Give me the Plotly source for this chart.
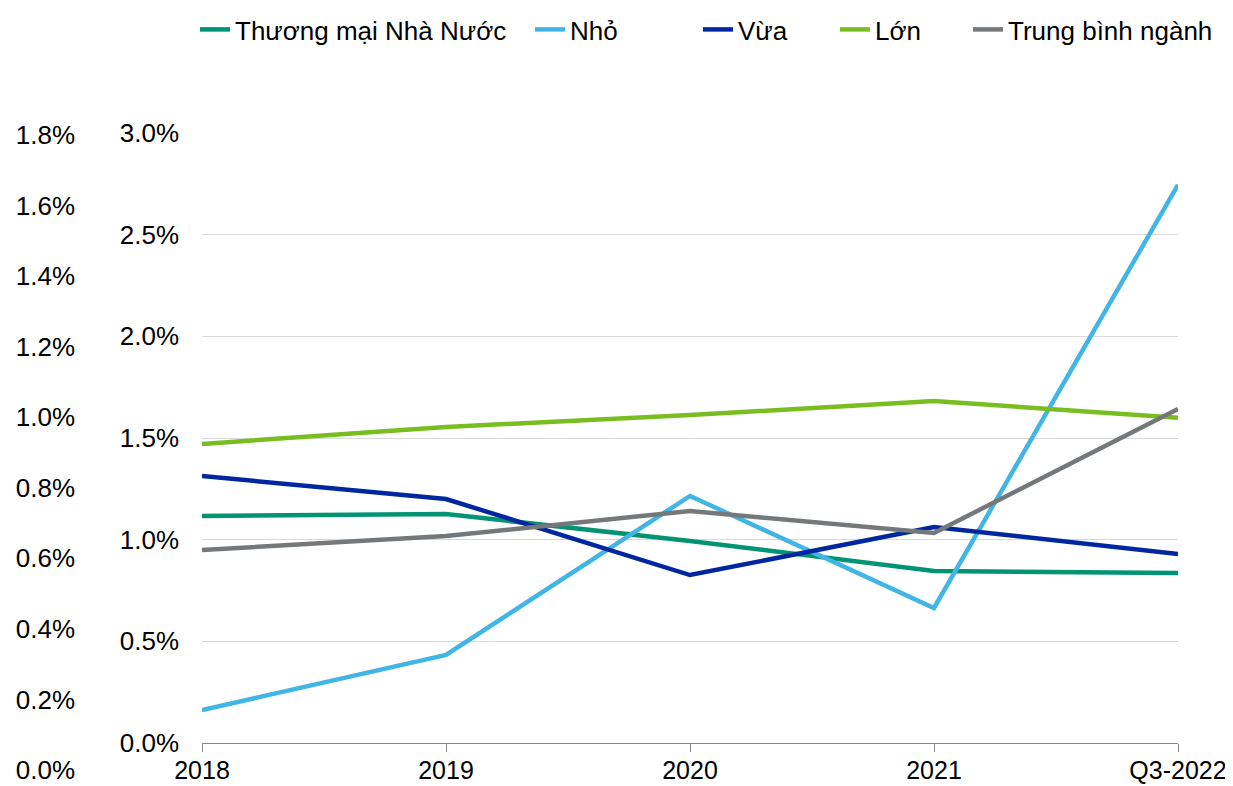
import plotly.graph_objects as go

categories = ["2018", "2019", "2020", "2021", "Q3-2022"]
thuong_mai_nha_nuoc = [1.117, 1.126, 0.994, 0.846, 0.836]
nho = [0.162, 0.433, 1.215, 0.664, 2.745]
vua = [1.313, 1.200, 0.826, 1.062, 0.930]
lon = [1.471, 1.554, 1.613, 1.682, 1.599]
trung_binh_nganh = [0.949, 1.018, 1.141, 1.033, 1.643]

series_names = ["Thương mại Nhà Nước", "Nhỏ", "Vừa", "Lớn", "Trung bình ngành"]
series_values = [thuong_mai_nha_nuoc, nho, vua, lon, trung_binh_nganh]
colors = ["#009473", "#41B6E6", "#0027A0", "#78BE20", "#75787B"]

left_ticks = [0.0, 0.2, 0.4, 0.6, 0.8, 1.0, 1.2, 1.4, 1.6, 1.8]
right_ticks = [0.0, 0.5, 1.0, 1.5, 2.0, 2.5, 3.0]

W, H = 1233, 786
OFF = 8  # page body offset

ml = 202 - OFF
mr = W - (1178 - OFF)
mt = 133 - OFF
mb = 16
pw = W - ml - mr
ph = H - mt - mb

def py(screen_y):
    return (H - mb - (screen_y - OFF)) / ph

def px(screen_x):
    return (screen_x - OFF - ml) / pw

fig = go.Figure()
fig.add_trace(go.Scatter(x=[categories[0]], y=[0], yaxis="y2", xaxis="x",
                         mode="markers", marker=dict(opacity=0), showlegend=False,
                         hoverinfo="skip"))

legend_text_starts = [237, 572, 740, 877, 1010]
font = dict(family="Liberation Sans, Arial, sans-serif", size=26, color="#000000")
xfont = dict(family="Liberation Sans, Arial, sans-serif", size=25, color="#000000")

legend_layout = {}
for i, (name, vals, col) in enumerate(zip(series_names, series_values, colors)):
    lg = "legend" if i == 0 else f"legend{i + 1}"
    fig.add_trace(go.Scatter(
        x=categories, y=[v / 100 for v in vals], name=name, mode="lines",
        line=dict(color=col, width=4.5), xaxis="x", yaxis="y", legend=lg))
    legend_layout[lg] = dict(
        orientation="h", x=px(legend_text_starts[i] - 42), xanchor="left",
        y=py(29.5), yanchor="middle", font=font, bgcolor="rgba(0,0,0,0)",
        borderwidth=0)

fig.update_layout(
    width=W, height=H,
    margin=dict(l=ml, r=mr, t=mt, b=mb, autoexpand=False),
    paper_bgcolor="white", plot_bgcolor="rgba(0,0,0,0)",
    font=font,
    showlegend=True,
    xaxis=dict(
        type="category", categoryorder="array", categoryarray=categories,
        range=[0, len(categories) - 1], domain=[0, 1], anchor="y",
        showgrid=False, showline=True, linecolor="#898989", linewidth=1.3,
        ticks="outside", ticklen=8, tickcolor="#898989", tickwidth=1.3,
        ticklabelstandoff=-3,
        tickfont=xfont, zeroline=False, automargin=False),
    yaxis=dict(
        domain=[py(743), min(1.0, py(133))], range=[0, 0.03],
        tickvals=[v / 100 for v in right_ticks], tickformat=".1%",
        showgrid=True, gridcolor="#D9D9D9", gridwidth=1,
        showline=False, zeroline=False, ticks="", ticklabelstandoff=22,
        tickfont=font, automargin=False),
    yaxis2=dict(
        domain=[max(0.0, py(770)), min(1.0, py(135))], range=[0, 0.018],
        anchor="free", position=0, side="left",
        tickvals=[v / 100 for v in left_ticks], tickformat=".1%",
        showgrid=False, showline=False, zeroline=False, ticks="",
        ticklabelstandoff=127, tickfont=font, automargin=False),
    **legend_layout,
)

fig.write_html("out.html")
